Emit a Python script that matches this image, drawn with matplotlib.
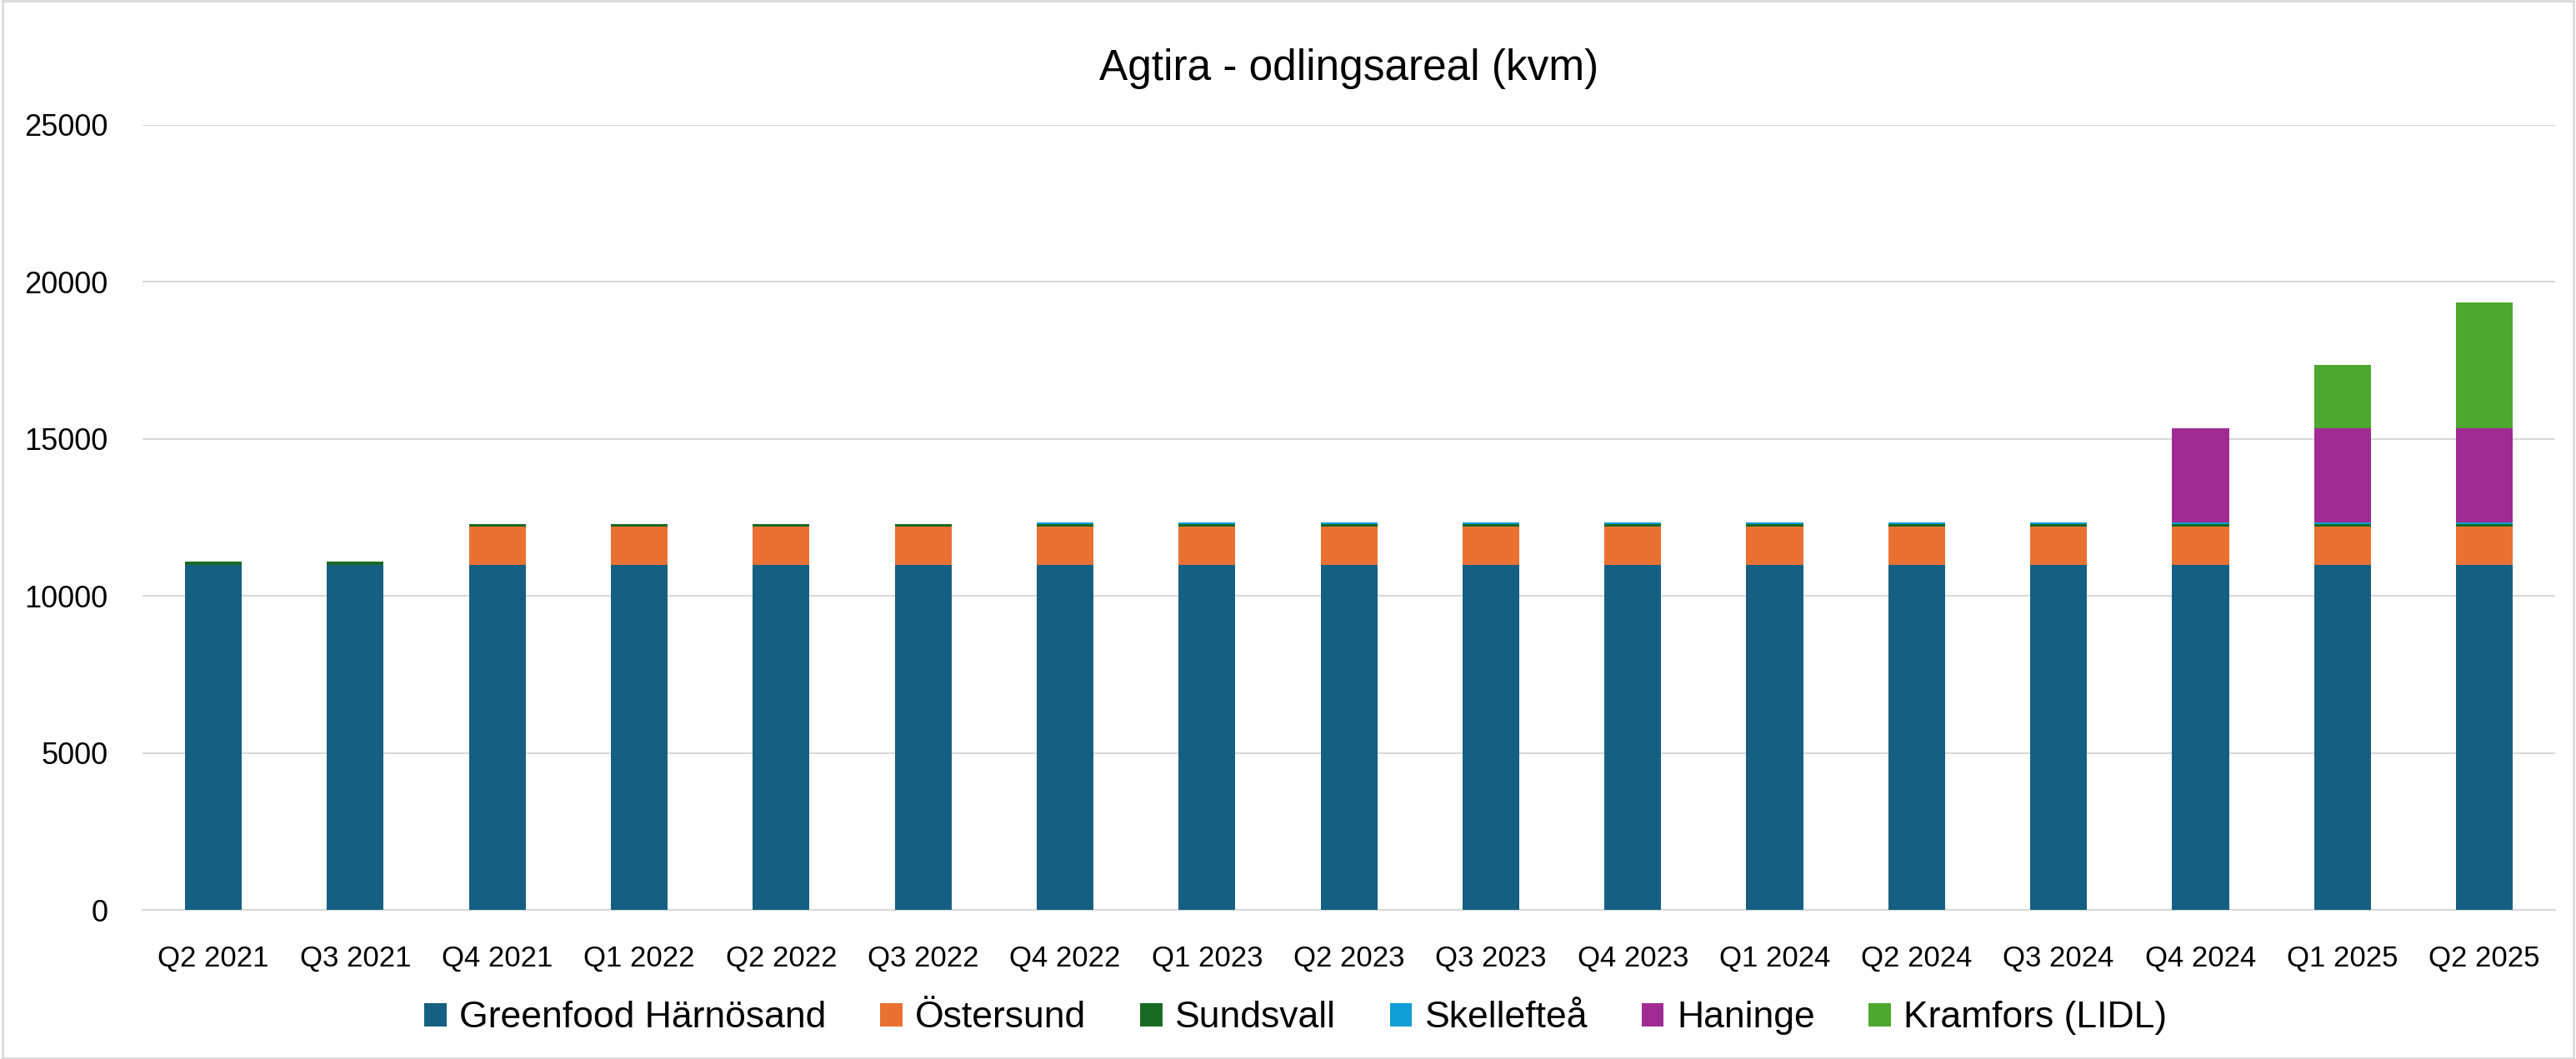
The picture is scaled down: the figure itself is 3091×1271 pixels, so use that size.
import numpy as np
import matplotlib
matplotlib.use('Agg')
import matplotlib.pyplot as plt
from matplotlib.patches import Rectangle

plt.rcParams['font.family'] = ['Liberation Sans', 'DejaVu Sans']

# data
quarters = ['Q2 2021', 'Q3 2021', 'Q4 2021', 'Q1 2022', 'Q2 2022', 'Q3 2022',
            'Q4 2022', 'Q1 2023', 'Q2 2023', 'Q3 2023', 'Q4 2023', 'Q1 2024',
            'Q2 2024', 'Q3 2024', 'Q4 2024', 'Q1 2025', 'Q2 2025']
greenfood = [11000] * 17
ostersund = [0, 0] + [1200] * 15
sundsvall = [100] * 17
skelleftea = [0] * 6 + [50] * 11
haninge = [0] * 14 + [3000, 3000, 3000]
kramfors = [0] * 15 + [2000, 4000]

series = [
    ('Greenfood Härnösand', greenfood, '#156082'),
    ('Östersund', ostersund, '#E97132'),
    ('Sundsvall', sundsvall, '#196B24'),
    ('Skellefteå', skelleftea, '#0F9ED5'),
    ('Haninge', haninge, '#A02B93'),
    ('Kramfors (LIDL)', kramfors, '#4EA72E'),
]

fig = plt.figure(figsize=(30.91, 12.71), dpi=100)
ax = fig.add_axes([0.0553, 0.1408, 0.9367, 0.7412])

x = np.arange(len(quarters))
bottom = np.zeros(len(quarters))
for name, vals, col in series:
    vals = np.array(vals, dtype=float)
    ax.bar(x, vals, width=0.4, bottom=bottom, color=col, label=name, zorder=3)
    bottom += vals

ax.set_xlim(-0.5, len(quarters) - 0.5)
ax.set_ylim(0, 25000)
ax.set_yticks(range(0, 25001, 5000))
ax.set_xticks(x)
ax.set_xticklabels(quarters)
ax.yaxis.grid(True, color='#D9D9D9', linewidth=1.5, zorder=0)
ax.tick_params(axis='both', length=0, colors='black')
ax.tick_params(axis='x', pad=30, labelsize=25)
ax.tick_params(axis='y', pad=30, labelsize=26)
for s in ['top', 'right', 'left']:
    ax.spines[s].set_visible(False)
ax.spines['bottom'].set_color('#D9D9D9')
ax.spines['bottom'].set_linewidth(1.5)

# title centred over the plot area
fig.text(0.5236, 0.935, 'Agtira - odlingsareal (kvm)', ha='center', va='center',
         fontsize=37, color='black')

fig.legend(loc='center', bbox_to_anchor=(0.503, 0.0386), ncol=6, frameon=False,
           fontsize=32, handlelength=0.6, handleheight=0.6, handletextpad=0.35,
           columnspacing=1.45)

# chart border
fig.patches.append(Rectangle((0.001, 0.001), 0.998, 0.998, transform=fig.transFigure,
                             fill=False, edgecolor='#D9D9D9', linewidth=2))

fig.savefig('out.png', dpi=100)
